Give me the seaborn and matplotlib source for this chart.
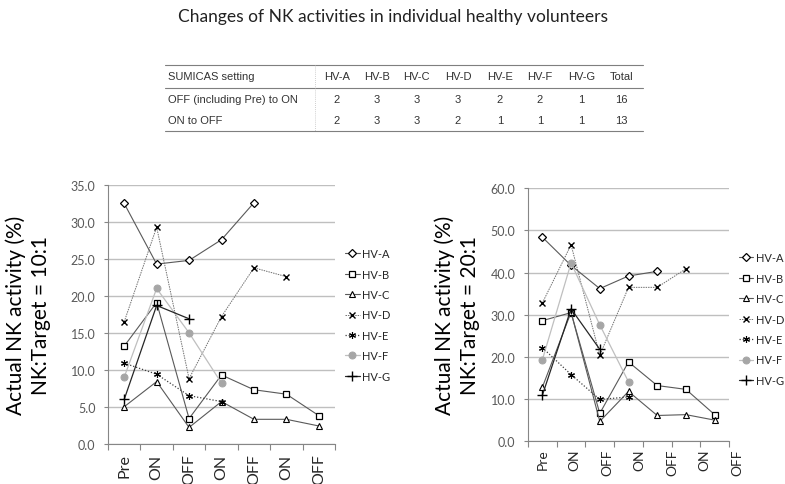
import matplotlib
matplotlib.use('Agg')
import matplotlib.pyplot as plt
from matplotlib.lines import Line2D
import seaborn as sns

# x categories (same for both panels)
settings = ['Pre', 'ON', 'OFF', 'ON', 'OFF', 'ON', 'OFF']
volunteers = ['HV-A', 'HV-B', 'HV-C', 'HV-D', 'HV-E', 'HV-F', 'HV-G']

# NK:Target = 10:1
hv_a_10 = [32.5, 24.3, 24.8, 27.6, 32.6]
hv_b_10 = [13.2, 19.1, 3.4, 9.3, 7.3, 6.7, 3.8]
hv_c_10 = [5.0, 8.4, 2.2, 5.7, 3.3, 3.3, 2.4]
hv_d_10 = [16.5, 29.3, 8.8, 17.2, 23.8, 22.6]
hv_e_10 = [10.9, 9.4, 6.5, 5.7]
hv_f_10 = [9.0, 21.0, 15.0, 8.2]
hv_g_10 = [6.0, 18.7, 16.9]

# NK:Target = 20:1
hv_a_20 = [48.4, 41.7, 36.2, 39.2, 40.3]
hv_b_20 = [28.6, 30.5, 6.6, 18.8, 13.2, 12.3, 6.3]
hv_c_20 = [12.8, 30.6, 4.7, 11.8, 6.1, 6.3, 5.0]
hv_d_20 = [32.8, 46.6, 20.4, 36.5, 36.5, 40.9]
hv_e_20 = [22.2, 15.8, 9.9, 10.5]
hv_f_20 = [19.3, 42.3, 27.6, 14.1]
hv_g_20 = [10.9, 31.4, 21.8]

# summary table
table_cols = ['HV-A', 'HV-B', 'HV-C', 'HV-D', 'HV-E', 'HV-F', 'HV-G', 'Total']
off_to_on = [2, 3, 3, 3, 2, 2, 1, 16]
on_to_off = [2, 3, 3, 2, 1, 1, 1, 13]

styles = {
    'HV-A': dict(marker='D', markersize=4.5, markerfacecolor='white', markeredgecolor='black',
                 markeredgewidth=0.9, color='#595959', linestyle='-', linewidth=0.8),
    'HV-B': dict(marker='s', markersize=5, markerfacecolor='white', markeredgecolor='black',
                 markeredgewidth=0.9, color='#595959', linestyle='-', linewidth=0.8),
    'HV-C': dict(marker='^', markersize=5, markerfacecolor='white', markeredgecolor='black',
                 markeredgewidth=0.8, color='#595959', linestyle='-', linewidth=0.8),
    'HV-D': dict(marker='x', markersize=5, markeredgecolor='black', markeredgewidth=1.0,
                 color='#707070', linestyle=(0, (1.5, 1)), linewidth=0.7),
    'HV-E': dict(marker=(6, 2, 0), markersize=5, markeredgecolor='black', markeredgewidth=0.8,
                 color='#404040', linestyle=(0, (1, 1.5)), linewidth=0.9),
    'HV-F': dict(marker='o', markersize=5, markerfacecolor='#a6a6a6', markeredgecolor='#a6a6a6',
                 color='#bfbfbf', linestyle='-', linewidth=0.9),
    'HV-G': dict(marker='+', markersize=7, markeredgecolor='black', markeredgewidth=1.0,
                 color='#262626', linestyle='-', linewidth=0.9),
}

sns.set_style('white')
plt.rcParams['font.family'] = ['Lato', 'DejaVu Sans']

fig = plt.figure(figsize=(7.85, 4.85), dpi=100)
W, H = 785.0, 485.0


def rect(x0, y_top, x1, y_bot):
    return [x0 / W, 1 - y_bot / H, (x1 - x0) / W, (y_bot - y_top) / H]


ax1 = fig.add_axes(rect(108, 186, 335, 444.7))
ax2 = fig.add_axes(rect(528, 189.3, 729, 442.2))

panels = [
    (ax1, [hv_a_10, hv_b_10, hv_c_10, hv_d_10, hv_e_10, hv_f_10, hv_g_10], 35, 5,
     'NK:Target = 10:1', 1.045, 0.4975),
    (ax2, [hv_a_20, hv_b_20, hv_c_20, hv_d_20, hv_e_20, hv_f_20, hv_g_20], 60, 10,
     'NK:Target = 20:1', 1.05, 0.483),
]

for ax, series, ymax, ystep, ratio, leg_x, leg_y in panels:
    for name, vals in zip(volunteers, series):
        sns.lineplot(x=list(range(len(vals))), y=vals, ax=ax, label=name, **styles[name])

    ax.set_xlim(-0.5, len(settings) - 0.5)
    ax.set_ylim(0, ymax)
    ax.set_yticks(range(0, ymax + 1, ystep))
    ax.set_yticklabels([f'{v:.1f}' for v in range(0, ymax + 1, ystep)],
                       fontsize=9, color='#595959')
    ax.yaxis.grid(True, color='#bfbfbf', linewidth=1)
    ax.set_axisbelow(True)
    ax.tick_params(axis='y', which='major', left=True, length=3, width=0.8,
                   color='#868686', pad=6)
    ax.set_xticks([i - 0.5 for i in range(len(settings) + 1)], minor=True)
    ax.tick_params(axis='x', which='minor', bottom=True, length=4, width=0.8,
                   color='#868686')
    for s in ['top', 'right']:
        ax.spines[s].set_visible(False)
    for s in ['left', 'bottom']:
        ax.spines[s].set_color('#868686')
        ax.spines[s].set_linewidth(0.8)
    ax.set_xlabel('')
    ax.set_ylabel('')
    ax.text(-0.352, 0.5, 'Actual NK activity (%)\n' + ratio, transform=ax.transAxes,
            rotation=90, ha='center', va='center', fontsize=15, linespacing=1.35,
            color='black')
    ax.legend(loc='center left', bbox_to_anchor=(leg_x, leg_y), frameon=False,
              fontsize=8, handlelength=1.3, handletextpad=0.25, labelspacing=0.85,
              borderaxespad=0, borderpad=0)

# left panel: labels under each category
ax1.set_xticks(range(len(settings)))
ax1.set_xticklabels(settings, rotation=90, fontsize=11.5)
ax1.tick_params(axis='x', which='major', length=0, pad=7)

# right panel: labels spread slightly wider than the categories (as in the original)
ax2.set_xticks([])
label_step = 1.13
for i, lab in enumerate(settings):
    ax2.text(i * label_step, -0.027, lab, transform=ax2.get_xaxis_transform(),
             rotation=90, ha='center', va='top', fontsize=10)

fig.text(0.5, 1 - 17 / H, 'Changes of NK activities in individual healthy volunteers',
         ha='center', va='center', fontsize=12.5, color='#222222')

# summary table
tfont = ['Liberation Sans', 'DejaVu Sans']
tcol = '#333333'
col_x = [336.7, 376.7, 416.7, 458, 500, 540, 581.7, 621.7]
row_y = [77, 100, 121.5]
for y in [66, 88.5, 132.3]:
    fig.add_artist(Line2D([165 / W, 643 / W], [1 - y / H, 1 - y / H],
                          color='#7f7f7f', linewidth=0.8))
fig.add_artist(Line2D([315 / W, 315 / W], [1 - 66 / H, 1 - 132.3 / H],
                      color='#bfbfbf', linewidth=0.6, linestyle=(0, (1, 1.5))))
rows = [('SUMICAS setting', table_cols),
        ('OFF (including Pre) to ON', off_to_on),
        ('ON to OFF', on_to_off)]
for y, (head, vals) in zip(row_y, rows):
    fig.text(168 / W, 1 - y / H, head, ha='left', va='center', fontsize=8,
             family=tfont, color=tcol)
    for x, v in zip(col_x, vals):
        fig.text(x / W, 1 - y / H, str(v), ha='center', va='center', fontsize=8,
                 family=tfont, color=tcol)

fig.savefig('out.png', dpi=100)
plt.close('all')
